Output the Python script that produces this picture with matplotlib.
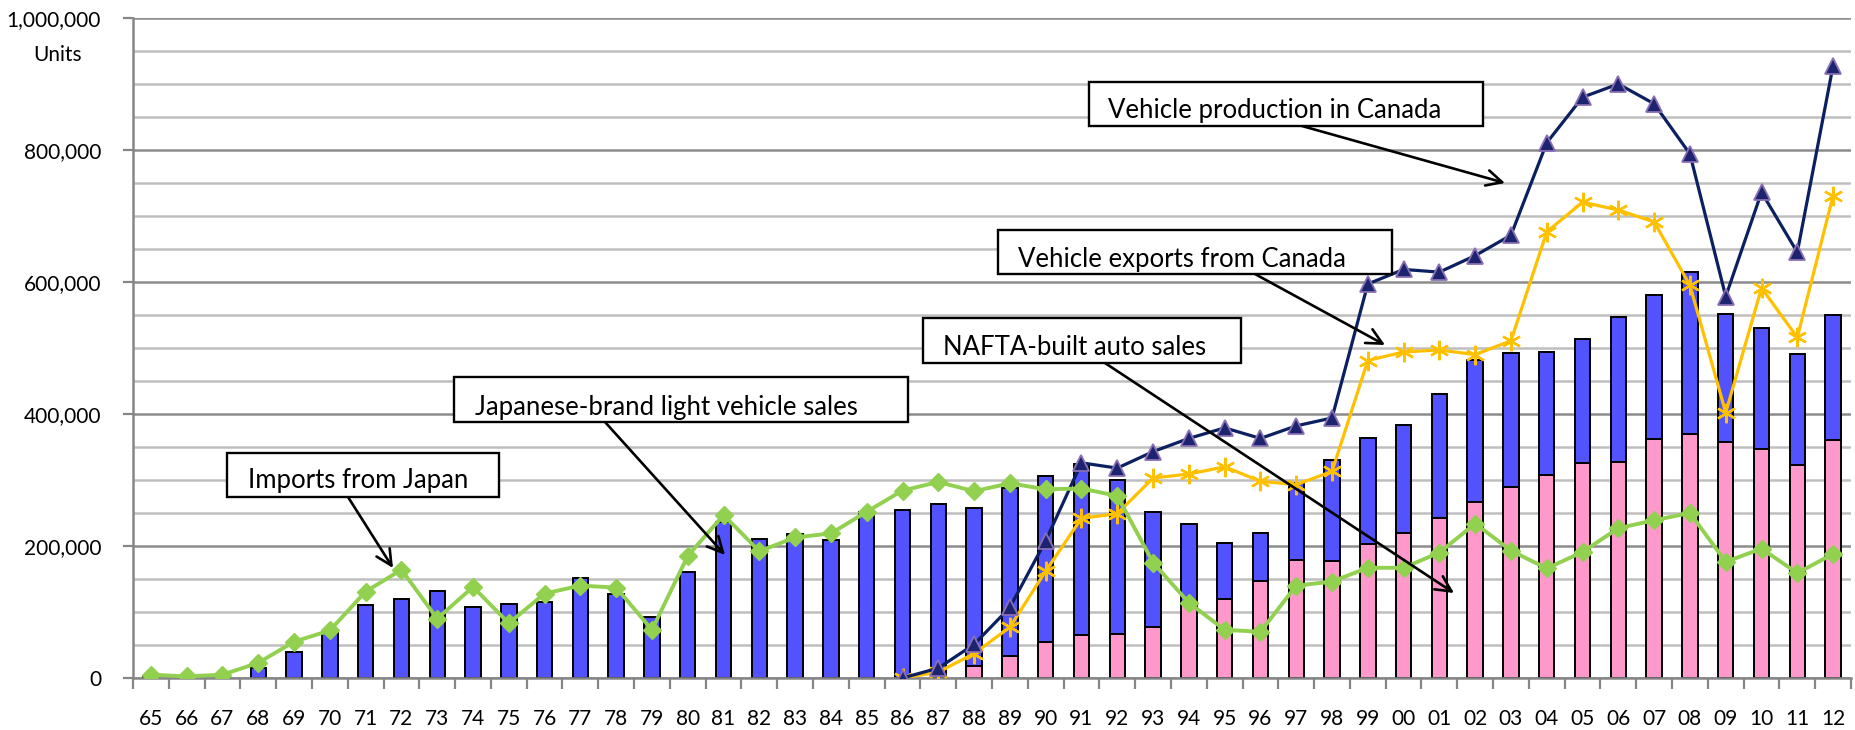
import matplotlib
matplotlib.use("Agg")
import matplotlib.pyplot as plt
import numpy as np
from matplotlib.patches import Rectangle
from matplotlib.ticker import FuncFormatter, MultipleLocator, FixedLocator

# ---------------- data ----------------
years = ["65", "66", "67", "68", "69", "70", "71", "72", "73", "74", "75", "76",
         "77", "78", "79", "80", "81", "82", "83", "84", "85", "86", "87", "88",
         "89", "90", "91", "92", "93", "94", "95", "96", "97", "98", "99", "00",
         "01", "02", "03", "04", "05", "06", "07", "08", "09", "10", "11", "12"]

# Japanese-brand light vehicle sales (total bar height)
japanese_brand_sales = [2000, 1000, 2500, 15000, 39000, 71000, 110000, 120000, 132000, 107000,
                        112000, 115000, 151000, 127000, 92000, 160000, 236000, 211000, 218000,
                        209000, 252000, 255000, 264000, 258000, 288000, 306000, 324000, 300000,
                        252000, 234000, 204000, 219000, 296000, 330000, 363000, 383000, 430000,
                        482000, 493000, 494000, 513000, 547000, 580000, 615000, 552000, 530000,
                        491000, 550000]

# NAFTA-built auto sales (pink lower segment)
nafta_built_sales = [0, 0, 0, 0, 0, 0, 0, 0, 0, 0, 0, 0, 0, 0, 0, 0, 0, 0, 0, 0, 0, 0, 0,
                     18000, 34000, 54000, 65000, 66000, 78000, 114000, 120000, 147000, 179000,
                     177000, 203000, 219000, 243000, 267000, 290000, 307000, 326000, 327000,
                     362000, 369000, 358000, 347000, 323000, 360000]

# Imports from Japan
imports_from_japan = [5000, 2500, 5000, 23000, 55000, 72000, 131000, 164000, 90000, 138000,
                      83000, 128000, 140000, 137000, 73000, 185000, 247000, 192000, 213000,
                      219000, 252000, 284000, 297000, 283000, 295000, 286000, 287000, 276000,
                      175000, 114000, 73000, 70000, 140000, 146000, 167000, 167000, 190000,
                      234000, 193000, 166000, 191000, 227000, 239000, 250000, 176000, 196000,
                      159000, 188000]

nan = float("nan")
# Vehicle production in Canada
production_canada = [nan] * 21 + [0, 15000, 51000, 107000, 208000, 326000, 318000, 343000,
                                  363000, 379000, 363000, 382000, 394000, 597000, 619000,
                                  615000, 640000, 671000, 811000, 880000, 900000, 870000,
                                  794000, 578000, 736000, 645000, 928000]

# Vehicle exports from Canada
exports_canada = [nan] * 21 + [0, 9000, 37000, 77000, 162000, 242000, 249000, 303000, 309000,
                               320000, 298000, 293000, 313000, 481000, 494000, 497000, 490000,
                               511000, 676000, 721000, 709000, 691000, 595000, 402000, 591000,
                               516000, 731000]

labels = {
    "prod": "Vehicle production in Canada",
    "exp": "Vehicle exports from Canada",
    "nafta": "NAFTA-built auto sales",
    "jpn": "Japanese-brand light vehicle sales",
    "imp": "Imports from Japan",
}

# ---------------- figure ----------------
W, H = 1856, 730
DPI = 100
FONT = ["Lato", "DejaVu Sans"]
plt.rcParams["font.family"] = FONT

fig = plt.figure(figsize=(W / DPI, H / DPI), dpi=DPI)
ax = fig.add_axes([133 / W, 1 - 678 / H, (1851 - 133) / W, (678 - 18) / H])

x = np.arange(len(years))
total = np.array(japanese_brand_sales, dtype=float)
pink = np.array(nafta_built_sales, dtype=float)
blue = total - pink

BLUE = "#5252FF"
PINK = "#FF99CC"
GREEN = "#92D050"
NAVY = "#0A2060"
ORANGE = "#FFC000"

bw = 0.43
ax.bar(x, pink, width=bw, color=PINK, edgecolor="black", linewidth=1.4, zorder=2)
ax.bar(x, blue, width=bw, bottom=pink, color=BLUE, edgecolor="black", linewidth=1.4, zorder=2)

ax.plot(x, exports_canada, color=ORANGE, lw=2.3, marker=(6, 2, 0), ms=14, mew=1.7,
        mec=ORANGE, zorder=4)
ax.plot(x, production_canada, color=NAVY, lw=2.3, marker="^", ms=11, mfc="#1C2470",
        mec="#8A6FB5", mew=1.3, zorder=5)
ax.plot(x, imports_from_japan, color=GREEN, lw=2.8, marker="D", ms=9, mfc=GREEN,
        mec=GREEN, zorder=6)

# axes limits & ticks
ax.set_xlim(-0.5, len(years) - 0.5)
ax.set_ylim(0, 1000000)

ax.yaxis.set_major_locator(MultipleLocator(200000))
ax.yaxis.set_minor_locator(MultipleLocator(50000))
ax.yaxis.set_major_formatter(FuncFormatter(lambda v, p: f"{int(v):,}"))
ax.tick_params(axis="y", which="major", length=7, width=1.6, color="#868686",
               labelsize=15, pad=16)
ax.tick_params(axis="y", which="minor", length=0)

ax.xaxis.set_major_locator(FixedLocator(np.arange(len(years) + 1) - 0.5))
ax.xaxis.set_major_formatter(FuncFormatter(lambda v, p: ""))
ax.set_xticks(x, minor=True)
ax.set_xticklabels(years, minor=True)
ax.tick_params(axis="x", which="major", length=8, width=1.6, color="#868686")
ax.tick_params(axis="x", which="minor", length=0, labelsize=15, pad=22)

ax.grid(axis="y", which="major", color="#8C8C8C", lw=1.8)
ax.grid(axis="y", which="minor", color="#BFBFBF", lw=1.8)
ax.set_axisbelow(True)

for s in ["top", "right"]:
    ax.spines[s].set_visible(False)
for s in ["left", "bottom"]:
    ax.spines[s].set_color("#868686")
    ax.spines[s].set_linewidth(1.8)

fig.text(58 / W, 1 - 55 / H, "Units", ha="center", va="center", fontsize=15)


def ff(px, py):
    return (px / W, 1 - py / H)


def box(x0, y0, x1, y1, tx, ty, text):
    r = Rectangle(ff(x0, y1), (x1 - x0) / W, (y1 - y0) / H, transform=fig.transFigure,
                  facecolor="white", edgecolor="black", lw=1.7, zorder=10)
    fig.patches.append(r)
    fig.text(tx / W, 1 - ty / H, text, ha="left", va="baseline", fontsize=18.5, zorder=11)


def arrow(sx, sy, ex, ey):
    ax.annotate("", xy=ff(ex, ey), xytext=ff(sx, sy), xycoords="figure fraction",
                textcoords="figure fraction", annotation_clip=False,
                arrowprops=dict(arrowstyle="->", lw=1.9, color="black", shrinkA=0,
                                shrinkB=0, mutation_scale=28), zorder=9)


box(1089, 82, 1483, 126, 1108, 118, labels["prod"])
arrow(1302, 126, 1505, 183)
box(998, 230, 1392, 274, 1018, 267, labels["exp"])
arrow(1255, 274, 1385, 345)
box(923, 318, 1241, 363, 943, 355, labels["nafta"])
arrow(1105, 363, 1454, 593)
box(454, 377, 908, 422, 475, 415, labels["jpn"])
arrow(605, 422, 725, 555)
box(227, 453, 499, 497, 248, 488, labels["imp"])
arrow(348, 497, 393, 568)

fig.savefig("out.png", dpi=DPI)
